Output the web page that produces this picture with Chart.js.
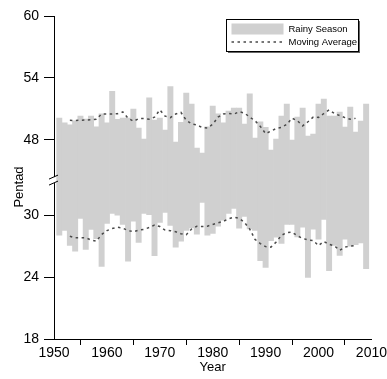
<!DOCTYPE html>
<html><head><meta charset="utf-8">
<script src="https://cdn.jsdelivr.net/npm/chart.js@4/dist/chart.umd.min.js"></script>
<style>html,body{margin:0;padding:0;background:#fff}#wrap{width:387px;height:379px}</style>
</head><body><div id="wrap"><canvas id="c" width="387" height="379"></canvas></div>
<script>
// ---- data ----
const years = [1951,1952,1953,1954,1955,1956,1957,1958,1959,1960,
  1961,1962,1963,1964,1965,1966,1967,1968,1969,1970,
  1971,1972,1973,1974,1975,1976,1977,1978,1979,1980,
  1981,1982,1983,1984,1985,1986,1987,1988,1989,1990,
  1991,1992,1993,1994,1995,1996,1997,1998,1999,2000,
  2001,2002,2003,2004,2005,2006,2007,2008,2009];
const onsetPentad = [28.05,28.51,27.08,26.5,29.68,26.69,28.61,27.73,25.04,29.19,
  30.17,30.0,29.1,25.53,29.42,27.37,30.17,30.04,26.08,29.29,
  30.26,29.0,26.89,27.47,28.51,28.77,28.15,31.24,28.05,28.22,
  28.93,29.51,30.17,30.65,28.74,29.87,28.67,28.51,25.59,24.94,
  27.54,27.86,27.25,29.1,29.1,27.9,28.83,23.97,28.64,27.67,
  29.58,24.62,27.08,26.11,27.67,26.99,27.15,27.31,24.81];
const retreatPentad = [50.11,49.65,49.46,49.85,50.31,50.01,50.31,49.27,50.53,49.65,
  52.71,49.98,50.11,50.11,50.99,49.14,48.07,52.06,49.92,50.11,
  48.94,53.16,47.78,49.69,52.54,51.47,47.19,46.71,49.27,51.28,
  50.53,49.65,50.79,51.08,51.08,49.53,52.45,48.17,49.75,49.2,
  47.0,48.07,50.31,51.47,47.97,50.21,51.08,48.36,48.55,51.47,
  51.96,50.31,50.31,50.69,49.24,51.18,48.75,49.82,51.47];
const maYears = [1953,1954,1955,1956,1957,1958,1959,1960,1961,1962,
  1963,1964,1965,1966,1967,1968,1969,1970,1971,1972,
  1973,1974,1975,1976,1977,1978,1979,1980,1981,1982,
  1983,1984,1985,1986,1987,1988,1989,1990,1991,1992,
  1993,1994,1995,1996,1997,1998,1999,2000,2001,2002,
  2003,2004,2005,2006,2007];
const maOnset = [27.96,27.8,27.8,27.8,27.6,27.47,28.12,28.5,28.7,28.83,
  28.75,28.5,28.4,28.55,28.63,28.8,29.05,28.9,28.55,28.5,
  28.4,28.2,28.1,28.65,28.92,28.9,28.93,29.1,29.25,29.4,
  29.65,29.8,29.7,29.3,28.65,27.65,27.25,26.95,26.9,27.4,
  28.05,28.3,28.35,28.0,27.75,27.6,27.55,27.05,27.45,27.18,
  27.02,26.6,26.9,27.0,27.05];
const maRetreat = [49.89,49.88,49.9,49.92,49.95,50.0,50.5,50.5,50.5,50.53,
  50.7,50.1,49.8,50.05,50.07,50.0,50.2,50.9,50.3,50.15,
  50.5,50.65,49.9,49.55,49.45,49.2,49.15,49.5,50.2,50.5,
  50.55,50.5,50.72,50.6,50.2,49.85,49.3,48.6,48.85,49.1,
  49.2,49.5,50.1,49.85,49.35,49.75,50.2,50.17,50.55,50.9,
  50.55,50.35,50.15,50.0,50.08];
const yTickLabels = [18,24,30,48,54,60];
const xTickLabels = [1950,1960,1970,1980,1990,2000,2010];
const seriesNames = ['Rainy Season','Moving Average'];

// ---- broken y axis: 30..48 gap compressed ----
const GAP = 10.7;          // units removed between 30 and 48
const SPLIT = 40;          // values above this are on the upper segment
const BREAK_AT = 33.4;     // axis position of the break marks
const toAxis = v => v > SPLIT ? v - GAP : v;
const fromAxis = a => a > BREAK_AT ? a + GAP : a;

const FONT = "'Liberation Sans', Arial, sans-serif";
const GREY = '#d0d0d0';
const DASH = '#4a4a4a';

const extras = {
  id: 'extras',
  afterDraw(chart) {
    const ctx = chart.ctx;
    const y = chart.scales.y, x = chart.scales.x;
    const ax = x.left;
    const by = y.getPixelForValue(BREAK_AT);
    ctx.save();
    // gap in the axis
    ctx.fillStyle = '#fff';
    ctx.fillRect(ax - 1.5, by - 3, 3, 6);
    ctx.strokeStyle = '#000';
    ctx.lineWidth = 1;
    ctx.beginPath();
    ctx.moveTo(ax - 5, by - 1); ctx.lineTo(ax + 4, by - 5);
    ctx.moveTo(ax - 5, by + 5); ctx.lineTo(ax + 4, by + 1);
    ctx.stroke();
    // y axis title
    ctx.fillStyle = '#000';
    ctx.font = '13px ' + FONT;
    ctx.textAlign = 'center';
    ctx.textBaseline = 'middle';
    ctx.translate(19, 187);
    ctx.rotate(-Math.PI / 2);
    ctx.fillText('Pentad', 0, 0);
    ctx.restore();

    // legend box
    ctx.save();
    const L = 226.5, T = 19.5, W = 132, H = 32;
    ctx.fillStyle = '#666';
    ctx.fillRect(L + 1.5, T + 1.5, W, H);
    ctx.fillStyle = '#fff';
    ctx.fillRect(L, T, W, H);
    ctx.strokeStyle = '#000';
    ctx.lineWidth = 1;
    ctx.strokeRect(L, T, W, H);
    ctx.fillStyle = GREY;
    ctx.fillRect(L + 5, T + 4, 52, 11);
    ctx.strokeStyle = DASH;
    ctx.lineWidth = 1.5;
    ctx.setLineDash([2.5, 3.5]);
    ctx.beginPath();
    ctx.moveTo(L + 5, T + 22.5); ctx.lineTo(L + 57, T + 22.5);
    ctx.stroke();
    ctx.setLineDash([]);
    ctx.fillStyle = '#000';
    ctx.font = '9.5px ' + FONT;
    ctx.textAlign = 'left';
    ctx.textBaseline = 'middle';
    ctx.fillText(seriesNames[0], L + 62, T + 10);
    ctx.fillText(seriesNames[1], L + 62, T + 22.5);
    ctx.restore();
  }
};

new Chart(document.getElementById('c'), {
  type: 'bar',
  data: {
    datasets: [
      {
        type: 'bar', label: seriesNames[0],
        data: years.map((yr, i) => ({x: yr, y: [toAxis(onsetPentad[i]), toAxis(retreatPentad[i])]})),
        backgroundColor: GREY, borderColor: GREY, borderWidth: 0,
        barPercentage: 1, categoryPercentage: 1, grouped: false, order: 2
      },
      {
        type: 'line', label: seriesNames[1],
        data: maYears.map((yr, i) => ({x: yr, y: toAxis(maRetreat[i])})),
        borderColor: DASH, borderWidth: 1.5, borderDash: [2.5, 3.5],
        pointRadius: 0, fill: false, tension: 0, order: 1
      },
      {
        type: 'line', label: seriesNames[1] + ' (onset)',
        data: maYears.map((yr, i) => ({x: yr, y: toAxis(maOnset[i])})),
        borderColor: DASH, borderWidth: 1.5, borderDash: [2.5, 3.5],
        pointRadius: 0, fill: false, tension: 0, order: 1
      }
    ]
  },
  options: {
    responsive: false, animation: false, devicePixelRatio: 1,
    layout: {padding: {top: 16, right: 15, left: 0, bottom: 0}},
    plugins: {legend: {display: false}, tooltip: {enabled: false}},
    scales: {
      x: {
        type: 'linear', min: 1950, max: 2010, offset: false,
        afterBuildTicks: s => { s.ticks = xTickLabels.map(v => ({value: v})); },
        afterFit: s => { s.height = 40; },
        grid: {display: true, drawOnChartArea: false, drawTicks: true, tickLength: 6, color: '#000', tickColor: '#000'},
        border: {display: true, color: '#000', width: 1},
        ticks: {color: '#000', font: {family: FONT, size: 14}, padding: 0, maxRotation: 0, autoSkip: false,
                callback: v => String(v)},
        title: {display: true, text: 'Year', color: '#000', font: {family: FONT, size: 13}, padding: {top: 0, bottom: 4}}
      },
      y: {
        type: 'linear', min: 18, max: toAxis(60),
        afterBuildTicks: s => { s.ticks = yTickLabels.map(v => ({value: toAxis(v)})); },
        afterFit: s => { s.width = 54; },
        grid: {display: true, drawOnChartArea: false, drawTicks: true, tickLength: 10, color: '#000', tickColor: '#000'},
        border: {display: true, color: '#000', width: 1},
        ticks: {color: '#000', font: {family: FONT, size: 14}, padding: 5, autoSkip: false,
                callback: v => String(Math.round(fromAxis(v)))},
        title: {display: false}
      }
    }
  },
  plugins: [extras]
});
</script></body></html>
